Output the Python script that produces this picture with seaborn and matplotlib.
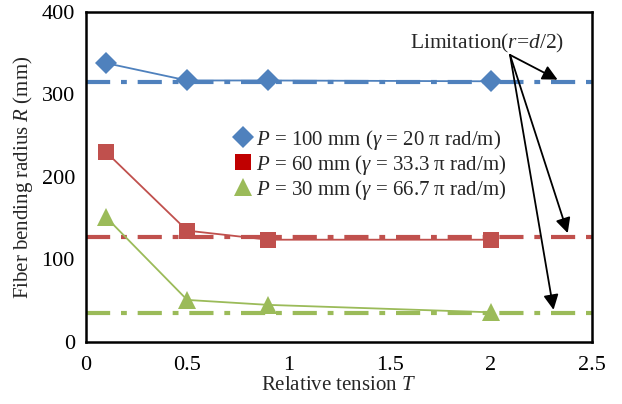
import matplotlib
matplotlib.use("Agg")
import matplotlib.pyplot as plt
from matplotlib.lines import Line2D
import seaborn as sns
import pandas as pd

# ---- data ----
tension = [0.1, 0.5, 0.9, 2.0]
r_p100 = [338, 317, 317, 316]
r_p60 = [230, 135, 124, 124]
r_p30 = [151, 51, 45, 36]
limits = [315, 127, 35]
labels = [r"$P$ = 100 mm ($\gamma$ = 20 π rad/m)",
          r"$P$ = 60 mm ($\gamma$ = 33.3 π rad/m)",
          r"$P$ = 30 mm ($\gamma$ = 66.7 π rad/m)"]
x_ticks = [0, 0.5, 1, 1.5, 2, 2.5]
x_tick_labels = ["0", "0.5", "1", "1.5", "2", "2.5"]
y_ticks = [0, 100, 200, 300, 400]
annot_text = r"Limitation($r$=$d$/2)"

sns.set_style("white")
plt.rcParams["font.family"] = ["Liberation Serif", "DejaVu Serif"]
plt.rcParams["mathtext.fontset"] = "custom"
plt.rcParams["mathtext.rm"] = "Liberation Serif"
plt.rcParams["mathtext.it"] = "Liberation Serif:italic"

colors = ["#4F81BD", "#C0504D", "#9BBB59"]
legend_colors = ["#4F81BD", "#C00000", "#9BBB59"]
markers = ["D", "s", "^"]
msizes = [11, 12, 13]

fig = plt.figure(figsize=(6.22, 4.04), dpi=100)
ax = fig.add_axes([86/622, 1-342/404, (592-86)/622, (342-12)/404])

series = [r_p100, r_p60, r_p30]
for i, vals in enumerate(series):
    df = pd.DataFrame({"T": tension, "R": vals})
    sns.lineplot(data=df, x="T", y="R", ax=ax, color=colors[i], marker=markers[i],
                 markersize=msizes[i], markeredgewidth=0, linewidth=1.3, zorder=3)

for i, lim in enumerate(limits):
    ax.axhline(lim, color=colors[i], linewidth=3.0,
               linestyle=(0, (5.8, 2.6, 1.4, 2.6)), dash_capstyle="butt", zorder=2)

ax.set_xlim(0, 2.5)
ax.set_ylim(0, 400)
ax.set_xticks(x_ticks)
ax.set_xticklabels(x_tick_labels)
ax.set_yticks(y_ticks)
ax.tick_params(axis="both", direction="in", length=5, width=1.5, labelsize=16, colors="black")
ax.tick_params(axis="x", pad=10)
ax.tick_params(axis="y", pad=8)
for s in ax.spines.values():
    s.set_color("black")
    s.set_linewidth(1.8)

ax.set_xlabel(r"Relative tension $T$", fontsize=15, labelpad=1)
ax.set_ylabel(r"Fiber bending radius $R$ (mm)", fontsize=15, labelpad=5)

handles = [Line2D([], [], linestyle="none", marker=markers[i], color=legend_colors[i],
                  markersize=msizes[i], markeredgewidth=0) for i in range(3)]
ax.legend(handles, labels, loc="upper left", bbox_to_anchor=(0.27, 0.675),
          frameon=False, fontsize=15, handletextpad=0.0, labelspacing=0.05,
          borderaxespad=0, handlelength=1.2)

origin = (2.095, 348)
targets = [(2.33, 318), (2.38, 132), (2.31, 39)]
ax.text(1.98, 362, annot_text, fontsize=15.5, ha="center", va="center")
for t in targets:
    ax.annotate("", xy=t, xytext=origin,
                arrowprops=dict(arrowstyle="-|>,head_length=0.9,head_width=0.45",
                                color="black", lw=1.3, shrinkA=0, shrinkB=0), zorder=5)

fig.savefig("out.png", dpi=100)
